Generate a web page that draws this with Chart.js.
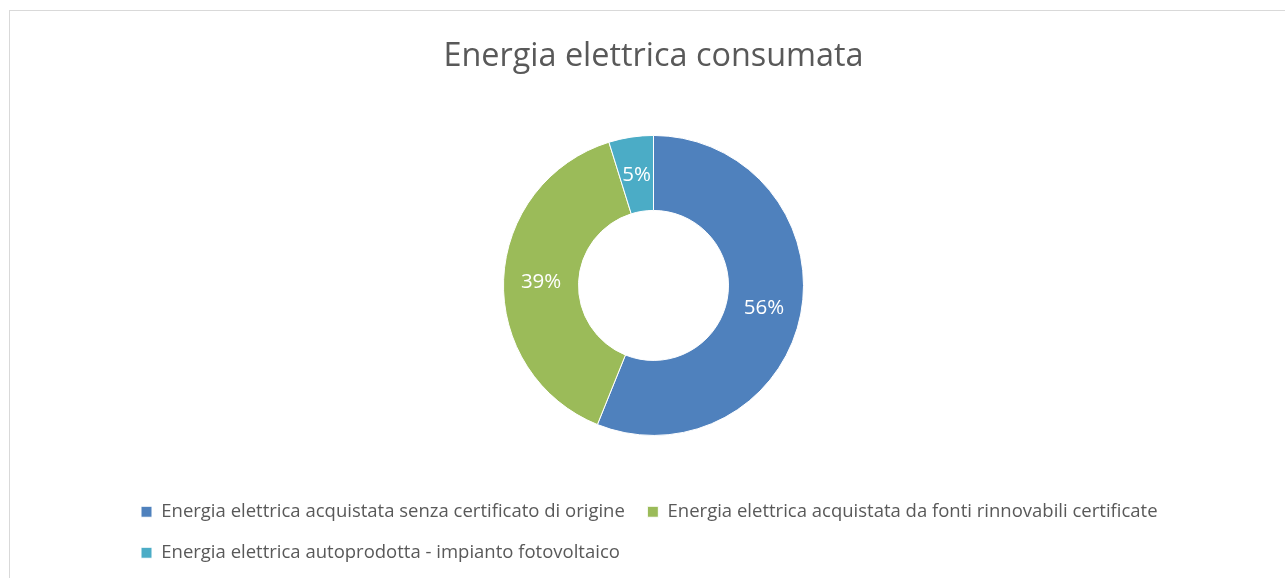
<!DOCTYPE html>
<html>
<head>
<meta charset="utf-8">
<script src="https://cdn.jsdelivr.net/npm/chart.js@4/dist/chart.umd.min.js"></script>
<style>
    body { margin: 0; background: #fff; overflow: hidden; }
    #frame {
        position: absolute; left: 9px; top: 10px;
        width: 1300px; height: 600px;
        border: 1px solid #d9d9d9;
    }
    #wrap { position: absolute; left: 0; top: 0; width: 1285px; height: 578px; }
</style>
</head>
<body>
<div id="frame"></div>
<div id="wrap"><canvas id="chart1"></canvas></div>
<script>
var categories = [
    "Energia elettrica acquistata senza certificato di origine",
    "Energia elettrica acquistata da fonti rinnovabili certificate",
    "Energia elettrica autoprodotta - impianto fotovoltaico"
];
var shares = [56.1, 39.1, 4.8];
var colors = ["#4F81BD", "#9BBB59", "#4BACC6"];

// percent labels in the middle of each slice
var sliceLabels = {
    id: 'sliceLabels',
    afterDatasetsDraw: function (chart) {
        let ctx = chart.ctx;
        let data = chart.data.datasets[0].data;
        let total = data.reduce(function (a, b) { return a + b; }, 0);
        ctx.save();
        ctx.font = '20.5px "Open Sans"';
        ctx.fillStyle = '#fff';
        ctx.textAlign = 'center';
        ctx.textBaseline = 'middle';
        chart.getDatasetMeta(0).data.forEach(function (arc, i) {
            let p = arc.tooltipPosition();
            ctx.fillText(Math.round(data[i] / total * 100) + '%', p.x, p.y + 1);
        });
        ctx.restore();
    }
};

var ctx = document.getElementById("chart1").getContext("2d");
new Chart(ctx, {
    type: 'doughnut',
    data: {
        labels: categories,
        datasets: [{
            data: shares,
            backgroundColor: colors,
            borderColor: '#fff',
            borderWidth: 1,
            radius: 150,
            cutout: '50%'
        }]
    },
    options: {
        responsive: true,
        maintainAspectRatio: false,
        animation: false,
        layout: {
            padding: { left: 118.5, right: 96.5, top: 0, bottom: 6 }
        },
        plugins: {
            title: {
                display: true,
                text: 'Energia elettrica consumata',
                color: '#595959',
                font: { family: '"Open Sans"', size: 32.4, weight: 'normal' },
                padding: { top: 37, bottom: 15 }
            },
            legend: {
                position: 'bottom',
                align: 'start',
                labels: {
                    color: '#595959',
                    font: { family: '"Open Sans"', size: 18.5 },
                    boxWidth: 11,
                    boxHeight: 11,
                    padding: 22.5
                }
            },
            tooltip: { enabled: false }
        }
    },
    plugins: [sliceLabels]
});
</script>
</body>
</html>
